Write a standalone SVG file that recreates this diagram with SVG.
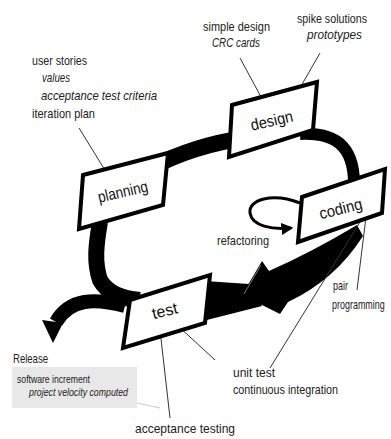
<svg xmlns="http://www.w3.org/2000/svg" width="391" height="439" viewBox="0 0 391 439">
<defs>
<style>
.lbl{font-family:"Liberation Sans",Arial,sans-serif;font-size:13px;fill:#222}
.it{font-style:italic}
.sm{font-size:10px}
.box{fill:#fff;stroke:#000;stroke-width:4;stroke-linejoin:miter}
.bt{font-family:"Liberation Sans",Arial,sans-serif;font-size:16px;fill:#111;text-anchor:middle}
.band{fill:none;stroke:#000;stroke-linecap:butt}
.lead{stroke:#333;stroke-width:1;fill:none}
</style>
<marker id="ah" viewBox="0 0 10 10" refX="8" refY="5" markerWidth="4" markerHeight="4" orient="auto" markerUnits="strokeWidth">
<path d="M0 0 L10 5 L0 10 Z" fill="#000"/>
</marker>
</defs>
<rect width="391" height="439" fill="#fff"/>
<g id="connectors">
<path class="band" stroke-width="16" d="M150 168 Q 195 145 245 138"/>
<path class="band" stroke-width="12" d="M300 134 C 340 132 356 150 354 192"/>
<path class="band" stroke-width="16" d="M100 222 C 96 245 94 262 100 280 Q 110 298 140 300"/>
<path class="band" stroke-width="14" d="M125 306 C 95 298 70 298 56 322"/>
<polygon fill="#000" points="42,320 63,323 53,343"/>
<polygon fill="#000" points="190,280 249,284 262,306 195,323"/>
<path fill="#000" d="M242 295 L262 261 L269 271 Q 312 252 357 225 L363 236 Q 335 280 288 302 L280 314 Z"/>
<path d="M244 294 L261 265" stroke="#999" stroke-width="0.8" fill="none"/>
<path d="M300 203 C 272 192 248 200 250 213 C 252 226 272 230 291 228" fill="none" stroke="#000" stroke-width="3" marker-end="url(#ah)"/>
<path class="lead" d="M79 128 L111 180"/>
<path class="lead" d="M240 58 L267 108"/>
<path class="lead" d="M320 53 L293 100"/>
<path class="lead" d="M363 217 L270 368"/>
<path class="lead" d="M366 217 L357 290"/>
<path class="lead" d="M160 330 L170 418"/>
<path class="lead" d="M177 325 L215 360"/>
<path d="M137 403 L160 408" stroke="#ccc" stroke-width="1" fill="none"/>
</g>
<g id="planning">
<polygon class="box" points="83,175 168,153 163,205 79,229"/>
<text class="bt" transform="translate(124,197) rotate(-13)" textLength="51" lengthAdjust="spacingAndGlyphs">planning</text>
</g>
<g id="design">
<polygon class="box" points="232,105 317,82 313,130 229,157"/>
<text class="bt" transform="translate(273,126) rotate(-13)" textLength="43" lengthAdjust="spacingAndGlyphs">design</text>
</g>
<g id="coding">
<polygon class="box" points="302,197 385,169 382,213 298,242"/>
<text class="bt" transform="translate(342,214) rotate(-14)" textLength="44" lengthAdjust="spacingAndGlyphs">coding</text>
</g>
<g id="test">
<polygon class="box" points="130,300 210,275 205,323 123,348"/>
<text class="bt" transform="translate(166,316) rotate(-14)" textLength="26" lengthAdjust="spacingAndGlyphs">test</text>
</g>
<g id="release">
<rect x="12" y="367" width="125" height="41" fill="#e8e8e8"/>
<text class="lbl" x="13" y="363" textLength="35" lengthAdjust="spacingAndGlyphs">Release</text>
<text class="lbl sm" x="17" y="383" textLength="73" lengthAdjust="spacingAndGlyphs">software increment</text>
<text class="lbl sm it" x="29" y="396" textLength="99" lengthAdjust="spacingAndGlyphs">project velocity computed</text>
</g>
<g id="labels">
<text class="lbl" x="32" y="65" textLength="55" lengthAdjust="spacingAndGlyphs">user stories</text>
<text class="lbl it" x="42" y="82" textLength="28" lengthAdjust="spacingAndGlyphs">values</text>
<text class="lbl it" x="41" y="100" textLength="116" lengthAdjust="spacingAndGlyphs">acceptance test criteria</text>
<text class="lbl" x="32" y="118" textLength="63" lengthAdjust="spacingAndGlyphs">iteration plan</text>
<text class="lbl" x="203" y="31" textLength="67" lengthAdjust="spacingAndGlyphs">simple design</text>
<text class="lbl it" x="212" y="47" textLength="48" lengthAdjust="spacingAndGlyphs">CRC cards</text>
<text class="lbl" x="297" y="23" textLength="70" lengthAdjust="spacingAndGlyphs">spike solutions</text>
<text class="lbl it" x="307" y="39" textLength="55" lengthAdjust="spacingAndGlyphs">prototypes</text>
<text class="lbl" x="217" y="245" textLength="52" lengthAdjust="spacingAndGlyphs">refactoring</text>
<text class="lbl" x="333" y="290" textLength="15" lengthAdjust="spacingAndGlyphs">pair</text>
<text class="lbl" transform="translate(332,309) scale(0.69,1)">programming</text>
<text class="lbl" x="233" y="377" textLength="42" lengthAdjust="spacingAndGlyphs">unit test</text>
<text class="lbl" x="233" y="394" textLength="105" lengthAdjust="spacingAndGlyphs">continuous integration</text>
<text class="lbl" x="135" y="433" textLength="100" lengthAdjust="spacingAndGlyphs">acceptance testing</text>
</g>
</svg>
